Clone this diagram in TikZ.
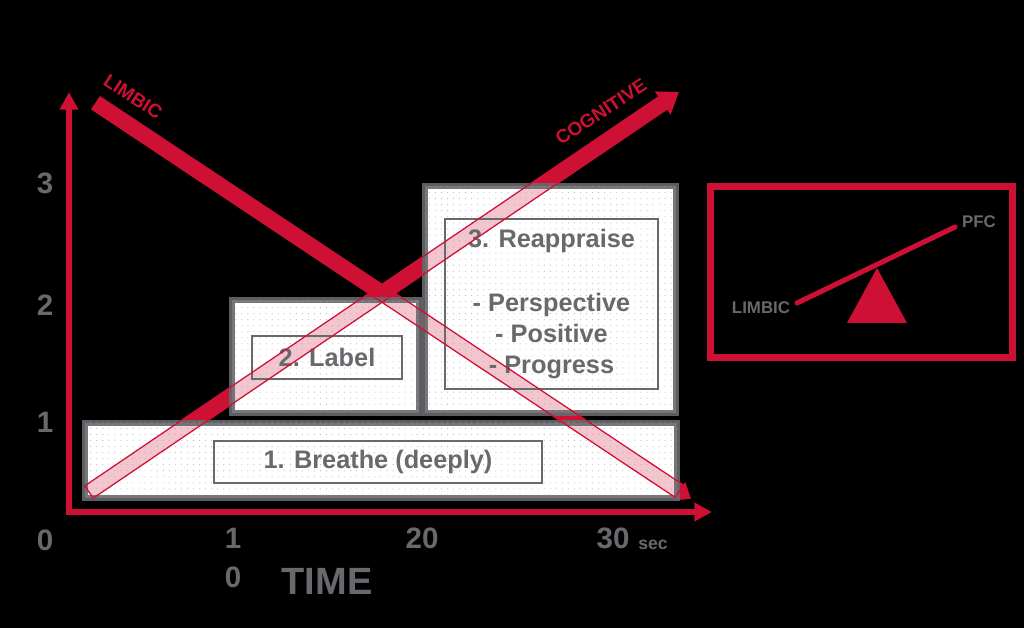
\documentclass[tikz,border=0pt]{standalone}
\usepackage{fontspec}
\setmainfont{Liberation Sans}
\usetikzlibrary{arrows.meta,calc,patterns.meta}
\definecolor{brainred}{RGB}{205,16,52}
\definecolor{slidegray}{RGB}{104,105,109}
\newcommand{\fs}[2]{\fontsize{#1}{#2}\selectfont\bfseries}

\begin{document}
\begin{tikzpicture}[x=0.025cm, y=-0.025cm,
        axis/.style={draw=brainred,line width=4.2pt,line cap=rect,-{Triangle[length=12.5pt,width=12.5pt]}},
        band/.style={draw=brainred,line width=10.6pt},
        bandedge/.style={draw=brainred,line width=0.9pt,line join=round},
        stage/.style={fill=white,inner sep=0pt},
        stagecover/.style={draw=slidegray,line width=4.2pt,draw opacity=0.9,fill=white,fill opacity=0.76,
          postaction={pattern={Dots[distance=4.3pt,radius=0.4pt]},pattern color=slidegray!60}},
        inner/.style={draw=slidegray,line width=0.9pt,text=slidegray,font=\fs{18}{22},align=center,inner sep=0pt},
        tick/.style={text=slidegray,font=\fs{21}{24},align=center},
        tag/.style={text=brainred,font=\fs{13.5}{16}},
        scalelbl/.style={text=slidegray,font=\fs{12}{14}},
        frame/.style={draw=brainred,line width=5pt},
        beam/.style={draw=brainred,line width=3.6pt,line cap=round}]
  \useasboundingbox (0,0) rectangle (1024,628);
  \fill[black] (0,0) rectangle (1024,628);
  % axes
  \coordinate (origin) at (69,512);
  \coordinate (yTip) at (69,92);
  \coordinate (xTip) at (712,512);
  \draw[axis] (origin) -- (yTip);
  \draw[axis] (origin) -- (xTip);
  % stage backgrounds
  \node[stage,minimum width=14.8cm,minimum height=1.875cm] (stageOne) at (381,460.5) {};
  \node[stage,minimum width=4.675cm,minimum height=2.825cm] (stageTwo) at (325.5,356.5) {};
  \node[stage,minimum width=6.275cm,minimum height=5.675cm] (stageThree) at (550.5,299.5) {};
  % limbic and cognitive bands
  \coordinate (limbicStart) at (96,103);
  \coordinate (limbicEnd) at (691,499);
  \coordinate (cogStart) at (89,492);
  \coordinate (cogEnd) at (679,92);
  \draw[band,-{Triangle[length=10pt,width=15pt]}] (limbicStart) -- (limbicEnd);
  \draw[band,-{Triangle[length=14pt,width=19pt]}] (cogStart) -- (cogEnd);
  % stage frames, washed over the bands
  \foreach \s in {stageOne,stageTwo,stageThree}
    \draw[stagecover] (\s.south west) rectangle (\s.north east);
  \node[inner,minimum width=8.2cm,minimum height=1.05cm] (breathe) at (378,462) {1. Breathe (deeply)};
  \node[inner,minimum width=3.75cm,minimum height=1.075cm] (label) at (327,357.5) {2. Label};
  \node[inner,minimum width=5.325cm,minimum height=4.25cm] (reappraise) at (551.5,304)
    {3. Reappraise\\[23pt]- Perspective\\- Positive\\- Progress};
  % band outlines over the stages
  \coordinate (limbicBase) at ($(limbicEnd)!10pt!(limbicStart)$);
  \coordinate (cogBase) at ($(cogEnd)!14pt!(cogStart)$);
  \draw[bandedge] ($(limbicStart)!5.3pt!90:(limbicBase)$) -- ($(limbicBase)!5.3pt!-90:(limbicStart)$)
    -- ($(limbicBase)!5.3pt!90:(limbicStart)$) -- ($(limbicStart)!5.3pt!-90:(limbicBase)$) -- cycle;
  \draw[bandedge] ($(cogStart)!5.3pt!90:(cogBase)$) -- ($(cogBase)!5.3pt!-90:(cogStart)$)
    -- ($(cogBase)!5.3pt!90:(cogStart)$) -- ($(cogStart)!5.3pt!-90:(cogBase)$) -- cycle;
  \node[tag,rotate=-33] (limbicTag) at (133,97) {LIMBIC};
  \node[tag,rotate=33] (cogTag) at (601,112) {COGNITIVE};
  % axis labels
  \node[tick] (yZero) at (45,540) {0};
  \node[tick] (yOne) at (45,422) {1};
  \node[tick] (yTwo) at (45,305) {2};
  \node[tick] (yThree) at (45,183) {3};
  \node[tick] (xTen) at (233,558) {1\\[4pt]0};
  \node[tick] (xTwenty) at (422,538) {20};
  \node[tick] (xThirty) at (613,538) {30};
  \node[text=slidegray,font=\fs{12.5}{14}] (secLbl) at (653,545) {sec};
  \node[text=slidegray,font=\fs{27}{30}] (timeLbl) at (327,581) {TIME};
  % seesaw inset
  \node[frame,minimum width=7.525cm,minimum height=4.25cm] (inset) at (861.5,272) {};
  \coordinate (beamL) at (797,303);
  \coordinate (beamR) at (955,227);
  \coordinate (pivot) at (877,268);
  \draw[beam] (beamL) -- (beamR);
  \fill[brainred] (pivot) -- (907,323) -- (847,323) -- cycle;
  \node[scalelbl] (limbicLbl) at (761,308) {LIMBIC};
  \node[scalelbl] (pfcLbl) at (979,222) {PFC};
\end{tikzpicture}
\end{document}
